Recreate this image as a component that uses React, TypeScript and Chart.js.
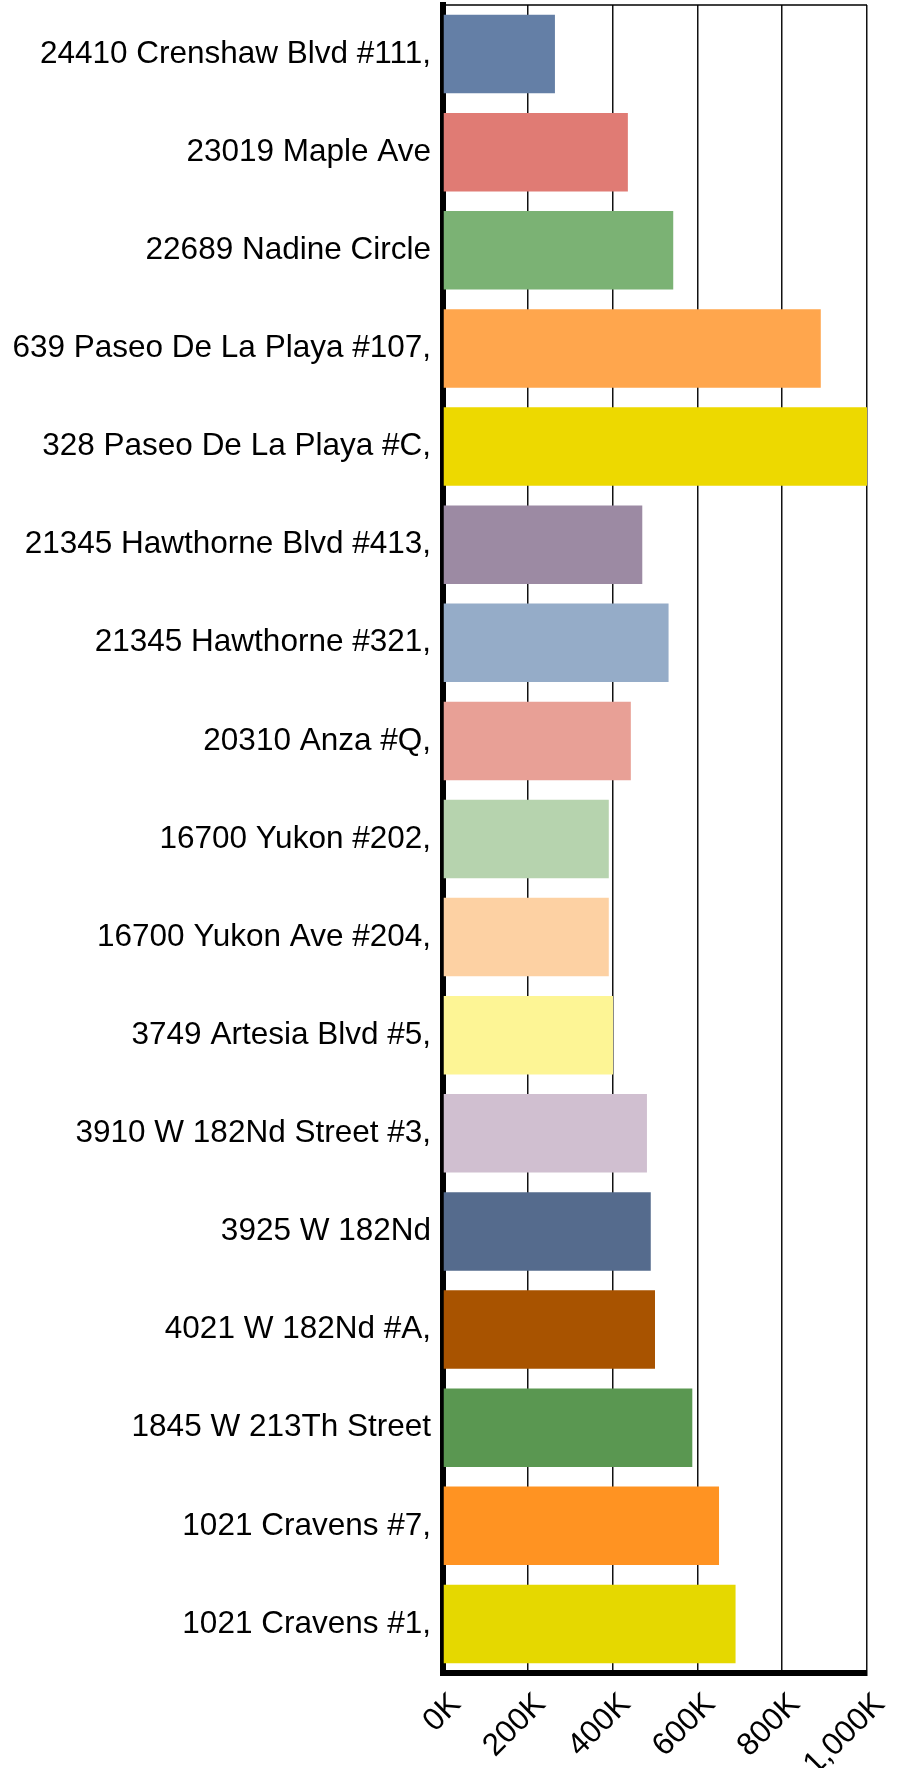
import React, { useEffect, useRef } from "react";
import { Chart, registerables } from "chart.js";

Chart.register(...registerables);

const categories = [
  "24410 Crenshaw Blvd #111,",
  "23019 Maple Ave",
  "22689 Nadine Circle",
  "639 Paseo De La Playa #107,",
  "328 Paseo De La Playa #C,",
  "21345 Hawthorne Blvd #413,",
  "21345 Hawthorne #321,",
  "20310 Anza #Q,",
  "16700 Yukon #202,",
  "16700 Yukon Ave #204,",
  "3749 Artesia Blvd #5,",
  "3910 W 182Nd Street #3,",
  "3925 W 182Nd",
  "4021 W 182Nd #A,",
  "1845 W 213Th Street",
  "1021 Cravens #7,",
  "1021 Cravens #1,",
];

const values = [
  264000, 436000, 543000, 891000, 1000000, 470000, 532000, 443000, 391000,
  391000, 401000, 481000, 490000, 500000, 588000, 651000, 690000,
];

const barColors = [
  "#647FA6", "#E07B74", "#7BB274", "#FFA64D", "#EDD900", "#9C8AA3",
  "#95ACC8", "#E8A096", "#B6D3AE", "#FDD1A3", "#FDF595", "#D0BFD0",
  "#556B8D", "#A85300", "#5A9751", "#FF9322", "#E5D800",
];

const xTicks = [0, 200000, 400000, 600000, 800000, 1000000];

const FONT = "'Liberation Sans', Arial, sans-serif";

export default function App() {
  const ref = useRef<HTMLCanvasElement | null>(null);

  useEffect(() => {
    if (!ref.current) return;
    const topLine = {
      id: "topLine",
      afterDraw(chart: any) {
        const { ctx, chartArea } = chart;
        ctx.save();
        ctx.strokeStyle = "#000";
        ctx.lineWidth = 1.5;
        ctx.beginPath();
        ctx.moveTo(chartArea.left, chartArea.top);
        ctx.lineTo(chartArea.right, chartArea.top);
        ctx.stroke();
        ctx.restore();
      },
    };
    const chart = new Chart(ref.current, {
      type: "bar",
      data: {
        labels: categories,
        datasets: [
          {
            data: values,
            backgroundColor: barColors,
            borderWidth: 0,
            categoryPercentage: 0.8,
            barPercentage: 1.0,
          },
        ],
      },
      options: {
        indexAxis: "y",
        responsive: false,
        animation: false,
        devicePixelRatio: 1,
        layout: { padding: { top: 5, right: 34, left: 0, bottom: 0 } },
        plugins: {
          legend: { display: false },
          tooltip: { enabled: false },
        },
        scales: {
          x: {
            min: 0,
            max: 1000000,
            afterBuildTicks: (scale: any) => {
              scale.ticks = xTicks.map((v) => ({ value: v }));
            },
            ticks: {
              minRotation: 45,
              maxRotation: 45,
              padding: 13,
              labelOffset: 13,
              color: "#000",
              font: { family: FONT, size: 31.5 },
              callback: (v: any) => (Number(v) / 1000).toLocaleString("en-US") + "K",
            },
            grid: {
              color: "#111",
              lineWidth: 1.5,
              drawTicks: false,
            },
            border: { display: true, color: "#000", width: 6 },
            afterFit: (scale: any) => {
              scale.height = 95;
              scale.paddingLeft = 0;
              scale.paddingRight = 0;
            },
          },
          y: {
            ticks: {
              padding: 12,
              color: "#000",
              font: { family: FONT, size: 31.5 },
              autoSkip: false,
            },
            grid: {
              display: true,
              color: "rgba(0,0,0,0)",
              drawTicks: false,
            },
            border: { display: true, color: "#000", width: 6 },
            afterFit: (scale: any) => {
              scale.width = 443;
              scale.paddingTop = 0;
              scale.paddingBottom = 0;
            },
          },
        },
      },
      plugins: [topLine],
    });
    return () => chart.destroy();
  }, []);

  return (
    <div style={{ position: "absolute", left: 0, top: 0, width: 901, height: 1768, background: "#fff" }}>
      <canvas ref={ref} width={901} height={1768} style={{ display: "block" }} />
    </div>
  );
}
